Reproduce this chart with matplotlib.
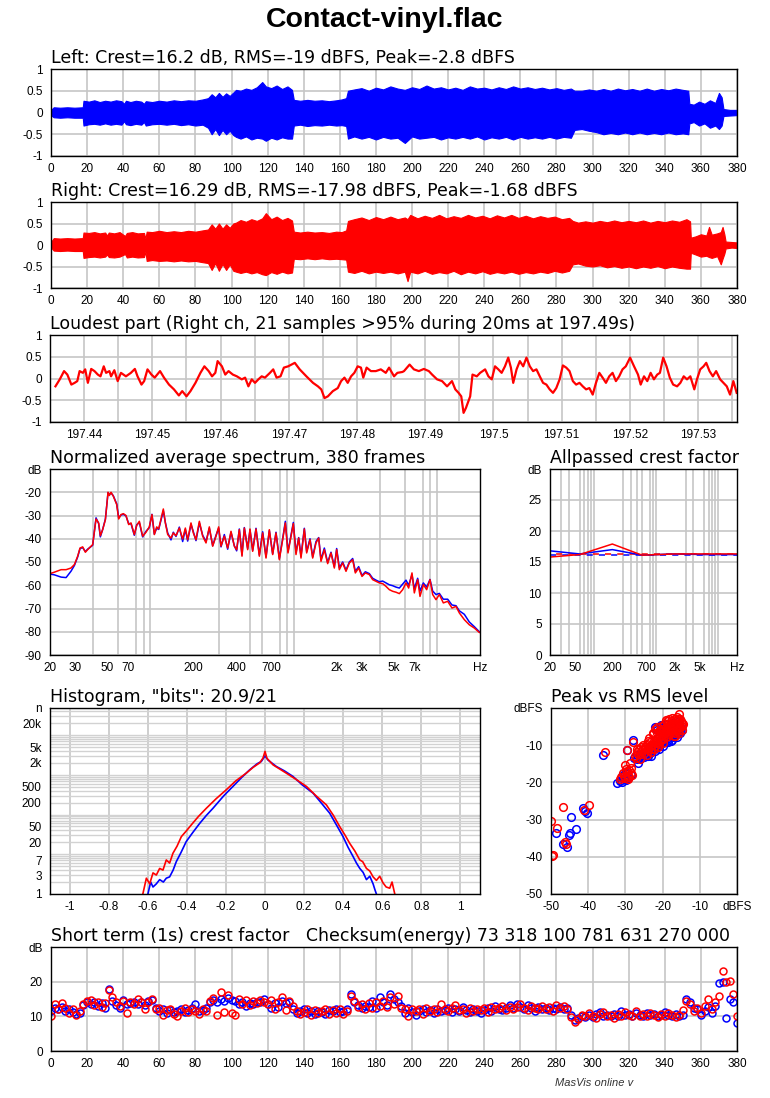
import matplotlib
matplotlib.use("Agg")
import matplotlib.pyplot as plt
import matplotlib.ticker as mticker
import numpy as np

plt.rcParams["font.family"] = ["Liberation Sans", "DejaVu Sans"]

W, H = 770, 1098
BLUE = "#0000ff"
RED = "#ff0000"
GRID = "#c6c6c6"

# ---- waveform envelopes (time s, upper, lower) ----
left_t = [0, 0.5, 1.5, 5, 9, 13, 17.6, 18, 21, 24, 27, 30, 33, 36, 39, 40.5, 41.5, 44, 47, 50,
          51.5, 52.5, 56, 60, 64, 68, 72, 76, 80, 84, 87, 89, 91, 93, 95, 97, 99, 101, 102.5,
          105, 108, 111, 114, 117, 119, 122, 125, 128, 131, 133.5, 134.5, 138, 142, 146, 150,
          154, 158, 161, 163.5, 164.5, 168, 172, 176, 180, 184, 188, 192, 196, 200, 204, 208,
          212, 216, 220, 224, 228, 232, 236, 240, 244, 248, 252, 256, 260, 264, 268, 272, 276,
          280, 284, 288, 290, 294, 298, 302, 306, 310, 314, 318, 322, 326, 330, 334, 338, 342,
          346, 350, 353, 353.6, 356, 359, 362, 365, 368, 370, 371.5, 372.5, 376, 380]
left_up = [0.02, 0.08, 0.12, 0.11, 0.12, 0.11, 0.12, 0.27, 0.25, 0.28, 0.24, 0.27, 0.25, 0.28,
           0.26, 0.2, 0.27, 0.24, 0.27, 0.25, 0.2, 0.26, 0.24, 0.27, 0.25, 0.28, 0.26, 0.28, 0.27,
           0.3, 0.33, 0.42, 0.35, 0.45, 0.36, 0.44, 0.38, 0.46, 0.52, 0.5, 0.55, 0.52, 0.58, 0.7,
           0.6, 0.56, 0.62, 0.54, 0.6, 0.52, 0.29, 0.27, 0.29, 0.27, 0.28, 0.26, 0.28, 0.3, 0.33,
           0.5, 0.53, 0.56, 0.5, 0.57, 0.53, 0.6, 0.55, 0.52, 0.58, 0.54, 0.62, 0.55, 0.58, 0.53,
           0.57, 0.52, 0.6, 0.55, 0.57, 0.53, 0.58, 0.54, 0.6, 0.55, 0.58, 0.54, 0.57, 0.53, 0.56,
           0.52, 0.55, 0.5, 0.5, 0.53, 0.5, 0.54, 0.5, 0.55, 0.51, 0.54, 0.5, 0.55, 0.5, 0.54,
           0.51, 0.55, 0.52, 0.5, 0.2, 0.18, 0.25, 0.2, 0.28, 0.22, 0.45, 0.35, 0.08, 0.06, 0.06]
left_lo = [-0.02, -0.08, -0.11, -0.12, -0.11, -0.12, -0.12, -0.3, -0.27, -0.26, -0.28, -0.25,
           -0.28, -0.26, -0.28, -0.2, -0.27, -0.29, -0.26, -0.28, -0.22, -0.3, -0.27, -0.26,
           -0.28, -0.26, -0.29, -0.27, -0.3, -0.28, -0.35, -0.5, -0.38, -0.52, -0.4, -0.5, -0.42,
           -0.52, -0.56, -0.6, -0.55, -0.62, -0.58, -0.6, -0.65, -0.58, -0.62, -0.57, -0.6, -0.6,
           -0.3, -0.28, -0.31, -0.29, -0.3, -0.28, -0.3, -0.29, -0.31, -0.6, -0.55, -0.6, -0.56,
           -0.62, -0.56, -0.6, -0.58, -0.7, -0.55, -0.6, -0.58, -0.56, -0.62, -0.57, -0.6, -0.56,
           -0.6, -0.55, -0.62, -0.57, -0.6, -0.56, -0.62, -0.56, -0.6, -0.57, -0.6, -0.56, -0.6,
           -0.56, -0.58, -0.4, -0.38, -0.42, -0.45, -0.5, -0.47, -0.5, -0.46, -0.5, -0.46, -0.5,
           -0.47, -0.5, -0.46, -0.5, -0.48, -0.5, -0.25, -0.22, -0.3, -0.25, -0.35, -0.3, -0.38,
           -0.3, -0.08, -0.07, -0.06]

right_t = [0, 0.5, 1.5, 5, 9, 13, 17.6, 18, 21, 24, 27, 30, 31, 32, 35, 38, 41, 42, 45, 48,
           51.5, 52.3, 53, 56, 60, 64, 68, 72, 76, 80, 84, 87, 89, 91, 93, 95, 97, 99, 101,
           102.5, 105, 108, 111, 114, 117, 119, 122, 125, 128, 131, 133.5, 134.5, 138, 142, 146,
           150, 154, 158, 161, 163.5, 164.5, 168, 172, 176, 180, 184, 188, 192, 196, 197.5, 199,
           203, 207, 211, 215, 219, 223, 227, 231, 235, 239, 243, 247, 251, 255, 259, 263, 267,
           271, 275, 279, 283, 287, 289, 292, 296, 300, 304, 308, 312, 316, 320, 324, 328, 332,
           336, 340, 344, 348, 352, 354, 354.4, 357, 360, 363, 364.5, 366, 369, 371, 372, 373,
           373.7, 377, 380]
right_up = [0.02, 0.1, 0.16, 0.15, 0.16, 0.15, 0.16, 0.29, 0.28, 0.3, 0.27, 0.29, 0.22, 0.29,
            0.27, 0.3, 0.21, 0.28, 0.3, 0.27, 0.28, 0.15, 0.31, 0.3, 0.33, 0.3, 0.32, 0.3, 0.33,
            0.31, 0.34, 0.36, 0.48, 0.38, 0.5, 0.38, 0.48, 0.4, 0.5, 0.52, 0.58, 0.54, 0.6, 0.56,
            0.62, 0.74, 0.6, 0.66, 0.58, 0.63, 0.57, 0.31, 0.29, 0.31, 0.29, 0.3, 0.28, 0.31, 0.3,
            0.34, 0.56, 0.6, 0.64, 0.58, 0.65, 0.6, 0.66, 0.6, 0.64, 0.6, 0.7, 0.62, 0.68, 0.63,
            0.7, 0.62, 0.67, 0.63, 0.7, 0.64, 0.68, 0.62, 0.69, 0.64, 0.7, 0.63, 0.68, 0.62, 0.67,
            0.63, 0.66, 0.6, 0.63, 0.56, 0.52, 0.55, 0.52, 0.56, 0.53, 0.57, 0.53, 0.56, 0.53,
            0.57, 0.52, 0.56, 0.53, 0.57, 0.54, 0.6, 0.55, 0.17, 0.2, 0.25, 0.22, 0.42, 0.24, 0.27,
            0.3, 0.42, 0.25, 0.08, 0.07, 0.06]
right_lo = [-0.02, -0.08, -0.13, -0.14, -0.13, -0.14, -0.14, -0.3, -0.28, -0.27, -0.29, -0.27,
            -0.22, -0.28, -0.29, -0.27, -0.21, -0.29, -0.27, -0.29, -0.28, -0.15, -0.37, -0.35,
            -0.37, -0.36, -0.38, -0.36, -0.38, -0.37, -0.4, -0.42, -0.58, -0.42, -0.6, -0.44,
            -0.58, -0.45, -0.6, -0.62, -0.65, -0.62, -0.66, -0.63, -0.68, -0.7, -0.63, -0.67,
            -0.62, -0.66, -0.64, -0.32, -0.33, -0.31, -0.33, -0.31, -0.33, -0.32, -0.33, -0.34,
            -0.62, -0.65, -0.6, -0.66, -0.62, -0.65, -0.62, -0.66, -0.62, -0.84, -0.62, -0.66,
            -0.6, -0.67, -0.63, -0.66, -0.6, -0.68, -0.62, -0.66, -0.61, -0.67, -0.63, -0.66,
            -0.62, -0.67, -0.63, -0.66, -0.62, -0.65, -0.6, -0.64, -0.6, -0.45, -0.43, -0.48,
            -0.5, -0.47, -0.52, -0.49, -0.53, -0.5, -0.54, -0.5, -0.53, -0.49, -0.54, -0.5, -0.53,
            -0.55, -0.55, -0.18, -0.22, -0.27, -0.25, -0.28, -0.3, -0.26, -0.45, -0.32, -0.2,
            -0.08, -0.06, -0.07]

# ---- loudest part, right channel (ms after window start, amplitude) ----
loud_start = 197.4357
loud_ms = [0.1, 0.73, 1.36, 1.84, 2.43, 2.91, 3.30, 3.64, 4.12, 4.46, 4.85, 5.34, 5.82, 6.31,
           6.70, 7.18, 7.52, 8.01, 8.25, 8.73, 9.22, 9.70, 10.43, 11.16, 11.74, 12.13, 12.71,
           13.10, 13.59, 14.17, 14.65, 15.43, 16.01, 16.74, 17.47, 18.19, 18.68, 19.31, 19.89,
           20.62, 21.35, 21.93, 22.56, 23.05, 23.53, 23.87, 24.50, 24.99, 25.47, 26.10, 26.69,
           27.41, 27.90, 28.38, 28.87, 29.35, 29.84, 30.33, 30.81, 31.54, 32.02, 32.51, 33.09,
           33.58, 34.21, 35.18, 35.90, 36.88, 37.85, 38.57, 39.06, 39.54, 40.03, 40.76, 41.48,
           41.97, 42.46, 42.94, 43.43, 43.91, 44.40, 44.88, 45.22, 45.71, 46.34, 47.06, 47.79,
           48.52, 49.00, 49.73, 50.22, 50.95,
           51.19, 52.01, 52.64, 53.37, 54.10, 54.83, 55.31, 56.04, 56.77, 57.50, 58.22, 58.71,
           59.19, 59.58, 59.92, 60.26, 60.89, 61.23, 61.86, 62.35, 63.08, 63.56, 64.05, 64.53,
           65.02, 65.50, 65.99, 66.47, 66.86, 67.20, 67.69, 68.17, 68.66, 69.14, 69.63, 70.11,
           70.60, 71.09, 71.57, 72.06, 72.54, 73.03, 73.51, 74.00, 74.48, 74.97, 75.45, 75.94,
           76.42, 76.91, 77.39, 77.88, 78.36, 78.85, 79.33, 79.82, 80.30, 80.79, 81.27, 81.76,
           82.25, 82.73, 83.22, 83.70, 84.33, 84.91, 85.49, 85.88, 86.37, 86.85, 87.34, 87.82,
           88.31, 88.70, 89.18, 89.67, 90.15, 90.64, 91.22, 91.70, 92.19, 92.67, 93.16, 93.74,
           94.13, 94.61, 95.10, 95.49, 95.97, 96.46, 96.94, 97.53, 98.01, 98.50, 98.98, 99.47,
           99.95]
loud_amp = [-0.18, -0.02, 0.17, 0.09, -0.14, -0.10, -0.06, 0.17, 0.13, 0.21, -0.10, 0.22, 0.17,
            0.09, 0.05, 0.28, 0.13, 0.17, 0.05, 0.19, -0.06, 0.13, 0.05, 0.13, 0.22, 0.05, -0.14,
            -0.06, 0.21, 0.09, 0.02, 0.17, 0.02, -0.14, -0.25, -0.39, -0.29, -0.41, -0.29, -0.10,
            0.13, 0.28, 0.17, 0.05, 0.13, 0.40, 0.28, 0.09, 0.17, 0.09, 0.05, -0.02, 0.02, -0.18,
            -0.02, -0.10, -0.02, 0.05, 0.02, 0.13, 0.21, 0.02, 0.05, 0.25, 0.28, 0.36, 0.21, 0.05,
            -0.10, -0.18, -0.25, -0.45, -0.41, -0.29, -0.22, -0.06, 0.02, -0.10, 0.05, 0.13, 0.28,
            0.25, 0.02, 0.25, 0.17, 0.17, 0.21, 0.13, 0.25, 0.05, 0.13, 0.15,
            0.17, 0.32, 0.21, 0.17, 0.22, 0.17, 0.09, -0.02, -0.06, -0.18, -0.06, -0.25, -0.33,
            -0.41, -0.79, -0.68, -0.41, 0.09, 0.05, 0.13, 0.21, 0.05, -0.02, 0.28, 0.21, 0.13,
            0.28, 0.48, 0.25, -0.10, 0.21, 0.40, 0.28, 0.48, 0.28, 0.17, 0.21, 0.05, -0.10, -0.14,
            -0.25, -0.33, -0.22, -0.02, 0.30, 0.25, 0.17, -0.06, -0.14, -0.10, -0.18, -0.25,
            -0.22, -0.37, -0.10, 0.13, 0.02, -0.10, 0.05, 0.13, -0.06, 0.05, 0.21, 0.28, 0.48,
            0.28, 0.09, -0.14, 0.05, -0.06, 0.13, -0.02, 0.09, 0.13, 0.48, 0.28, 0.02, -0.14,
            -0.18, -0.10, 0.05, -0.02, 0.05, -0.25, -0.02, 0.21, 0.28, 0.36, 0.17, 0.05, 0.17,
            -0.02, -0.10, -0.18, -0.37, -0.06, -0.33]

# ---- normalized average spectrum (Hz, dB) ----
spec_freq = [20, 21.4, 23.9, 25.9, 28.0, 29.6, 31.2, 32.4, 33.8, 35.3, 36.6, 39.7, 41.9, 43.7,
             44.9, 46.6, 48.7, 50.8, 51.9, 53.3, 55.3, 58.4, 60.3, 62.6, 65.0, 67.8, 70.8, 73.5,
             77.5, 80.5, 84.0, 88.6, 93.5, 98.6, 102.9, 106.9, 111.0, 114.6, 119.0, 123.5, 127.6,
             132.5, 139.7, 145.0, 151.4, 159.7, 168.5, 175.9, 182.6, 192.6, 200, 208.7, 220.3,
             232.4, 245.2, 258.6, 272.9, 287.9, 300.4, 312.0, 329.1, 347.2, 366.3, 386.4, 401.1,
             418.7, 437.1, 453.8, 478.8, 497.0, 518.8, 547.4, 577.5, 609.2, 642.8, 678.1, 715.4,
             754.7, 796.2, 840.0, 876.8, 915.1, 960.2, 997.0, 1040.6, 1086.2, 1127.7, 1189.8,
             1235.2, 1303.3, 1360.3, 1435.0, 1497.8, 1555.0, 1640.5, 1730.8, 1826.0, 1926.5,
             2000, 2087.4, 2202.2, 2323.4, 2451.2, 2586.1, 2699.3, 2847.7, 3004.4, 3169.7, 3380.7,
             3566.7, 3763.0, 3970.0, 4188.4, 4418.8, 4661.8, 4918.3, 5188.8, 5474.3, 5775.4,
             6093.1, 6357.8, 6707.5, 6964, 7347, 7628, 8048, 8491, 8958, 9351, 9865, 10408, 11095,
             11898, 12756, 13606, 14350, 15547, 16846, 18252, 19785]
spec_right = [-55.0, -54.4, -53.3, -53.3, -52.6, -51.1, -47.5, -44.0, -43.5, -45.8, -44.7, -42.5,
              -31.5, -33.2, -38.7, -36.1, -31.8, -20.0, -21.4, -20.0, -21.7, -25.3, -31.5, -29.6,
              -29.2, -30.0, -33.9, -33.2, -38.2, -34.3, -32.5, -38.9, -37.2, -34.9, -29.6, -38.2,
              -34.9, -35.8, -31.5, -27.2, -33.2, -38.2, -39.7, -37.5, -38.7, -35.4, -40.1, -35.4,
              -40.4, -33.2, -37.5, -40.4, -32.5, -38.9, -41.8, -34.9, -43.2, -38.9, -34.9, -43.2,
              -38.9, -44.0, -36.8, -43.2, -44.7, -36.1, -47.5, -35.4, -44.7, -35.8, -45.4, -35.8,
              -47.5, -37.5, -48.3, -36.1, -46.8, -37.5, -49.0, -40.4, -33.2, -46.1, -38.9, -33.5,
              -46.8, -39.7, -48.3, -35.8, -46.1, -40.4, -48.3, -41.8, -39.7, -49.7, -44.7, -50.7,
              -46.1, -52.6, -44.7, -53.3, -50.4, -54.0, -50.4, -49.0, -54.7, -52.6, -56.2, -54.7,
              -55.4, -57.6, -58.3, -59.0, -59.3, -60.5, -61.9, -62.6, -63.0, -63.6, -61.9, -59.0,
              -61.2, -54.7, -63.3, -57.6, -64.8, -59.7, -61.9, -57.6, -64.0, -66.2, -64.0, -67.6,
              -66.9, -69.8, -69.1, -71.9, -74.8, -77.0, -78.4, -80.3]
spec_left = [-55.2, -55.5, -56.5, -56.7, -54.0, -51.5, -47.8, -44.2, -43.8, -45.5, -44.5, -42.8,
             -31.0, -33.5, -39.2, -36.0, -31.5, -20.2, -21.0, -20.3, -21.5, -25.0, -31.0, -29.8,
             -29.5, -30.2, -33.5, -33.5, -38.5, -34.0, -33.0, -39.2, -36.8, -35.2, -29.5, -38.0,
             -35.5, -36.0, -32.0, -28.0, -33.0, -37.5, -40.5, -37.2, -39.0, -35.0, -41.2, -36.0,
             -41.0, -33.8, -37.0, -40.8, -33.2, -38.5, -41.2, -35.5, -43.0, -38.5, -35.5, -43.5,
             -38.2, -44.5, -37.2, -43.0, -45.2, -35.8, -47.0, -35.2, -44.2, -36.2, -45.0, -35.5,
             -47.0, -37.0, -47.8, -36.5, -46.5, -37.2, -48.5, -40.0, -32.5, -45.5, -38.5, -33.0,
             -46.0, -39.5, -47.5, -35.5, -45.5, -40.0, -47.8, -41.2, -39.5, -49.0, -44.0, -50.2,
             -45.8, -52.0, -44.2, -52.5, -50.0, -53.5, -50.0, -48.5, -54.0, -52.0, -55.8, -54.2,
             -55.0, -57.0, -57.8, -58.5, -58.2, -59.0, -59.8, -60.2, -60.8, -61.2, -59.5, -57.8,
             -60.0, -55.5, -61.5, -57.0, -62.5, -59.0, -60.8, -57.5, -62.5, -64.0, -63.5, -66.0,
             -66.0, -68.5, -68.8, -71.0, -72.5, -75.8, -77.8, -80.0]

# ---- allpassed crest factor (Hz, dB) ----
ap_freq = [20, 60, 200, 600, 2000, 6000, 20000]
ap_left = [16.8, 16.3, 17.0, 16.1, 16.3, 16.2, 16.2]
ap_right = [15.8, 16.2, 17.9, 16.1, 16.3, 16.3, 16.3]
crest_left, crest_right = 16.2, 16.29

# ---- histogram (sample value, count) ----
hist_r_x = [-0.625, -0.607, -0.59, -0.573, -0.556, -0.539, -0.522, -0.505, -0.488, -0.471,
            -0.45, -0.428, -0.40, -0.377, -0.34, -0.30, -0.25, -0.198, -0.15, -0.096, -0.06,
            -0.027, -0.01, 0, 0.01, 0.041, 0.075, 0.109, 0.16, 0.212, 0.26, 0.314, 0.35, 0.382,
            0.41, 0.433, 0.46, 0.485, 0.50, 0.519, 0.536, 0.553, 0.57, 0.587, 0.604, 0.62, 0.638,
            0.65, 0.664]
hist_r_n = [1, 2.5, 1.8, 3.4, 3.0, 4.4, 4.0, 7.2, 6.0, 10.6, 16, 27.8, 40, 55, 90, 144, 250,
            420, 700, 1100, 1550, 2000, 2650, 3880, 2600, 1780, 1400, 1100, 760, 510, 300, 175,
            95, 50, 30, 19, 12, 7.2, 6.5, 4.4, 3.8, 2.7, 2.2, 2.8, 1.9, 1.5, 1.4, 2, 1]
hist_l_x = [-0.599, -0.585, -0.573, -0.556, -0.539, -0.52, -0.505, -0.488, -0.47, -0.454, -0.43,
            -0.403, -0.37, -0.334, -0.30, -0.266, -0.21, -0.164, -0.12, -0.078, -0.04, -0.019, 0,
            0.015, 0.058, 0.10, 0.143, 0.19, 0.246, 0.29, 0.331, 0.37, 0.399, 0.425, 0.451, 0.468,
            0.485, 0.502, 0.519, 0.536, 0.553, 0.562, 0.570]
hist_l_n = [1, 2, 1.5, 1.8, 2.3, 2.0, 2.5, 2.7, 4.0, 6.5, 11, 20.9, 35, 60, 95, 144, 300, 510,
            850, 1340, 1900, 2160, 3000, 2360, 1620, 1250, 910, 560, 345, 190, 108, 50, 28, 15,
            8.7, 6, 4.4, 3.5, 2.3, 2.8, 1.8, 1.3, 1]

# ---- peak vs RMS per second (RMS dBFS, peak dBFS) ----
pr_left_rms = [-48.7, -46.7, -45.8, -45.0, -45.2, -44.7, -43.4, -41.5, -40.4, -40.8, -35.9,
               -32.3, -31.0, -30.5, -30.0, -29.8, -29.2, -29.6, -28.0, -26.5, -27.0, -26.2,
               -25.5, -25.0, -24.5, -24.0, -23.5, -23.0, -22.5, -22.0, -21.5, -21.0, -20.5,
               -20.0, -19.5, -19.0, -18.5, -18.0, -17.5, -17.2, -16.8, -16.5, -16.0, -15.5,
               -15.0, -20.5, -19.8, -19.0, -18.2, -17.5, -16.8, -16.2, -15.5, -21.5, -22.0, -17.8,
               -27.8, -26.8, -25.8, -24.8, -23.8, -22.8, -21.8, -20.8, -19.8, -18.8, -17.8,
               -16.2, -15.2, -14.9, -18.5, -31.5, -30.8, -29.5, -28.5]
pr_left_peak = [-33.7, -36.5, -37.4, -33.5, -34.2, -29.2, -32.6, -26.9, -28.3, -27.6, -12.6,
                -20.2, -18.2, -19.0, -17.6, -19.3, -18.8, -11.2, -8.5, -14.8, -12.5, -13.0,
                -12.5, -13.2, -11.8, -13.0, -12.2, -12.8, -10.8, -11.6, -10.0, -10.9, -9.5,
                -10.2, -8.2, -7.5, -8.0, -7.0, -8.5, -7.8, -7.2, -6.5, -7.0, -6.2, -5.5, -4.5,
                -5.2, -4.2, -5.5, -4.0, -4.6, -3.8, -4.5, -6.0, -5.2, -6.2,
                -13.5, -13.8, -13.5, -12.5, -12.0, -11.5, -10.5, -9.8, -9.0, -8.8, -8.9,
                -7.8, -6.8, -6.0, -9.2, -19.5, -19.8, -17.5, -18.0]
pr_right_rms = [-50.0, -49.7, -49.4, -48.5, -46.9, -46.2, -46.0, -41.0, -39.8, -35.5, -31.2,
                -30.6, -30.2, -30.0, -29.7, -29.4, -29.1, -28.9, -28.6, -28.7, -28.3, -29.6,
                -28.0, -27.2, -26.9, -26.5, -26.0, -25.8, -25.5, -25.0, -24.6, -24.2, -24.0,
                -23.5, -23.2, -23.0, -22.7, -22.5, -22.2, -22.0, -21.8, -21.5, -21.2, -21.0,
                -20.8, -20.5, -20.2, -20.0, -19.8, -19.5, -19.2, -19.0, -18.8, -18.5, -18.2,
                -18.0, -17.8, -17.5, -17.2, -17.0, -16.8, -16.5, -16.2, -16.0, -15.8, -15.5,
                -15.2, -15.0, -14.8, -14.8, -22.0, -21.5, -21.0, -20.5, -20.0, -19.5, -18.5,
                -17.5, -16.5, -15.5, -22.5, -24.0, -17.0, -15.6,
                -27.5, -27.0, -26.3, -25.8, -25.3, -24.8, -24.3, -23.8, -23.3, -22.8, -22.3,
                -21.8, -21.3, -20.8, -20.3, -19.8, -19.3, -18.8, -18.3, -17.8, -17.3, -16.8,
                -16.3, -15.8, -15.3, -14.9, -14.6, -16.0, -17.6, -19.0, -20.6, -21.6, -23.6,
                -18.6, -17.9, -16.6, -15.6, -29.9, -30.4, -28.6, -29.3, -31.5]
pr_right_peak = [-30.5, -39.7, -39.5, -32.3, -26.7, -35.9, -36.6, -27.4, -26.2, -11.8, -18.6,
                 -17.6, -15.4, -18.9, -17.0, -18.2, -16.7, -18.5, -17.4, -14.8, -18.0, -11.4,
                 -9.2, -13.4, -11.7, -12.3, -13.6, -10.5, -11.4, -12.2, -10.6, -12.6, -11.3,
                 -10.2, -11.9, -10.9, -6.7, -9.6, -11.0, -10.2, -8.2, -9.1, -10.6, -9.7, -8.8,
                 -8.4, -7.2, -9.3, -6.3, -4.3, -7.8, -5.1, -3.6, -6.2, -7.0, -4.6, -5.8, -5.3,
                 -6.5, -3.9, -6.8, -4.8, -3.3, -5.6, -6.1, -4.1, -2.9, -3.6, -4.9, -5.8, -5.6,
                 -5.1, -6.1, -4.9, -5.6, -6.9, -4.2, -4.2, -5.9, -5.2, -7.0, -8.8, -7.5, -1.6,
                 -12.8, -11.0, -11.0, -12.3, -10.0, -11.0, -9.8, -10.8, -9.2, -10.0, -8.8,
                 -9.5, -7.8, -7.5, -6.0, -8.2, -6.6, -5.6, -3.0, -3.4, -4.8, -3.0,
                 -4.2, -3.0, -5.0, -3.9, -4.4, -2.5, -2.7, -3.2, -5.8, -6.7, -8.1,
                 -7.4, -6.8, -7.4, -6.8, -16.5, -18.3, -16.0, -19.1, -19.0]

# ---- short term (1 s) crest factor, every 2 s from 0 to 380 ----
st_time = list(range(0, 381, 2))
st_left = [11.5, 12.5, 12.0, 12.8, 11.5, 12.0, 11.2, 10.8, 11.0, 13.2, 14.0, 13.5, 14.2, 13.0,
           13.8, 12.5, 17.8, 14.5, 13.2, 12.5, 14.8, 13.5, 13.8, 14.2, 13.5, 14.0, 13.2, 14.5,
           14.8, 12.5, 11.5, 12.2, 11.0, 11.8, 11.2, 11.5, 12.0, 11.2, 11.8, 12.5, 13.5, 11.5,
           11.8, 12.5, 14.0, 14.8, 14.2, 15.0, 14.5, 15.2, 14.8, 14.5, 13.5, 14.2, 13.0, 13.8,
           13.5, 14.2, 14.0, 15.0, 13.5, 12.5, 13.8, 12.8, 14.5, 13.8, 14.2, 12.0, 11.0, 11.5,
           12.2, 11.0, 11.5, 10.8, 11.5, 11.2, 10.8, 11.8, 11.5, 12.0, 11.2, 11.5, 12.0, 16.5,
           14.0, 13.2, 12.5, 13.0, 12.8, 14.5, 12.5, 15.5, 14.0, 13.2, 16.5, 15.0, 14.2, 13.0,
           11.0, 12.5, 11.2, 10.5, 11.5, 12.0, 11.2, 11.8, 11.0, 12.2, 11.5, 11.8, 12.5, 11.2,
           12.0, 11.5, 12.8, 11.8, 11.2, 12.0, 11.5, 11.0, 11.8, 12.5, 11.5, 13.0, 12.2, 11.8,
           12.5, 13.2, 12.5, 13.5, 12.8, 12.0, 13.2, 12.5, 11.5, 12.8, 12.2, 12.5, 11.8, 12.5,
           12.0, 12.8, 12.2, 12.5, 10.5, 8.8, 9.5, 10.0, 9.8, 10.5, 9.8, 10.8, 11.2, 10.2, 10.5,
           10.0, 10.8, 10.2, 11.5, 10.5, 10.8, 10.2, 11.0, 10.5, 10.2, 11.0, 10.5, 10.8, 10.0,
           10.5, 11.2, 10.5, 10.2, 10.8, 10.0, 10.5, 15.0, 14.0, 12.5, 12.0, 10.5, 11.5, 12.8,
           11.0, 13.0, 19.5, 20.0, 9.5, 15.0, 14.0, 8.0]
st_right = [10.2, 13.5, 12.2, 13.8, 12.5, 11.0, 12.2, 10.5, 11.5, 13.5, 14.5, 14.8, 13.2, 14.0,
            12.8, 13.8, 17.5, 15.5, 14.0, 13.0, 14.5, 11.0, 14.2, 13.5, 15.0, 14.0, 12.2, 14.2,
            15.0, 12.0, 12.5, 10.5, 11.8, 12.2, 10.8, 10.0, 11.5, 12.5, 11.2, 12.0, 11.5, 10.8,
            12.0, 11.5, 14.5, 15.2, 10.5, 17.0, 11.2, 16.2, 11.0, 10.5, 15.0, 13.5, 14.8, 13.2,
            14.5, 13.8, 14.8, 14.0, 13.5, 14.8, 12.2, 14.0, 15.5, 11.8, 14.5, 13.0, 11.5, 10.8,
            11.2, 12.0, 10.5, 11.8, 11.0, 11.5, 12.2, 10.8, 11.8, 11.0, 12.2, 10.8, 11.5, 16.0,
            14.5, 12.8, 13.5, 12.2, 13.8, 12.5, 14.0, 13.0, 14.5, 12.8, 15.5, 13.5, 16.0, 12.5,
            12.0, 10.0, 12.0, 11.5, 12.2, 10.8, 12.5, 11.5, 12.2, 11.2, 13.5, 12.0, 11.5, 12.5,
            13.2, 11.8, 12.2, 11.0, 12.5, 11.5, 12.2, 11.8, 12.5, 11.2, 12.8, 12.0, 12.5, 13.0,
            11.8, 12.8, 12.2, 12.8, 13.5, 12.5, 11.8, 13.0, 12.5, 12.0, 13.0, 12.2, 12.8, 11.5,
            13.2, 12.5, 13.0, 12.2, 9.8, 8.5, 9.2, 10.5, 10.0, 11.0, 10.2, 9.5, 10.8, 11.2, 10.0,
            10.5, 9.5, 10.8, 10.0, 11.2, 10.5, 10.0, 11.5, 10.2, 10.8, 10.0, 11.0, 10.5, 9.8,
            10.8, 10.2, 11.0, 10.5, 9.8, 10.5, 11.8, 14.5, 13.5, 11.5, 12.5, 11.0, 13.0, 15.0,
            12.0, 14.0, 16.0, 23.0, 20.0, 20.2, 16.5, 10.0]

fig = plt.figure(figsize=(W / 100, H / 100), dpi=100)


def add_axes(x0, y0, x1, y1):
    return fig.add_axes([x0 / W, 1 - y1 / H, (x1 - x0) / W, (y1 - y0) / H])


def style(ax, title):
    ax.set_title(title, loc="left", fontsize=12.5, family="DejaVu Sans", pad=4)
    ax.tick_params(which="both", length=0, labelsize=8.5)
    ax.tick_params(axis="y", pad=6)
    ax.tick_params(axis="x", pad=5)
    ax.set_axisbelow(True)
    for s in ax.spines.values():
        s.set_linewidth(1)


def wave_panel(y0, y1, t, up, lo, color, title):
    ax = add_axes(51, y0, 737, y1)
    ax.fill_between(t, lo, up, color=color, lw=0.8)
    ax.set_xlim(0, 380)
    ax.set_ylim(-1, 1)
    ax.set_xticks(range(0, 381, 20))
    ax.set_yticks([-1, -0.5, 0, 0.5, 1], ["-1", "-0.5", "0", "0.5", "1"])
    ax.grid(True, color=GRID, lw=1.2)
    style(ax, title)
    return ax


wave_panel(69, 156, left_t, left_up, left_lo, BLUE,
           "Left: Crest=16.2 dB, RMS=-19 dBFS, Peak=-2.8 dBFS")
wave_panel(202, 288, right_t, right_up, right_lo, RED,
           "Right: Crest=16.29 dB, RMS=-17.98 dBFS, Peak=-1.68 dBFS")

# loudest part
ax = add_axes(50, 335, 737, 422)
loud_t = loud_start + np.array(loud_ms) / 1000
ax.plot(loud_t, loud_amp, color=RED, lw=1.6)
ax.set_xlim(loud_start, loud_start + 0.1)
ax.set_ylim(-1, 1)
loud_ticks = [197.44, 197.45, 197.46, 197.47, 197.48, 197.49, 197.5, 197.51, 197.52, 197.53]
ax.set_xticks(loud_ticks, [f"{v:g}" for v in loud_ticks])
ax.set_xticks([v + 0.005 for v in loud_ticks] + [197.435], minor=True)
ax.set_yticks([-1, -0.5, 0, 0.5, 1], ["-1", "-0.5", "0", "0.5", "1"])
ax.grid(True, which="both", color=GRID, lw=1.2)
style(ax, "Loudest part (Right ch, 21 samples >95% during 20ms at 197.49s)")

# spectrum
grid_f = [m * 10 ** k for k in (1, 2, 3) for m in range(3, 11)]
ax = add_axes(50, 469, 480, 655)
ax.semilogx(spec_freq, spec_left, color=BLUE, lw=1.1)
ax.semilogx(spec_freq, spec_right, color=RED, lw=1.1)
ax.set_xlim(20, 20000)
ax.set_ylim(-90, -10)
ax.set_xticks([20, 30, 50, 70, 200, 400, 700, 2000, 3000, 5000, 7000, 20000],
              ["20", "30", "50", "70", "200", "400", "700", "2k", "3k", "5k", "7k", "Hz"])
ax.set_xticks(grid_f, minor=True)
ax.xaxis.set_minor_formatter(mticker.NullFormatter())
ax.set_yticks(range(-90, -9, 10), [str(v) for v in range(-90, -19, 10)] + ["dB"])
ax.grid(True, axis="x", which="minor", color=GRID, lw=1.2)
ax.grid(True, axis="y", which="major", color=GRID, lw=1.2)
style(ax, "Normalized average spectrum, 380 frames")

# allpassed crest factor
ax = add_axes(550, 469, 737, 655)
ax.axhline(crest_left, color=BLUE, lw=1.1, ls=(0, (4, 4)))
ax.axhline(crest_right, color=RED, lw=1.1, ls=(4, (4, 4)))
ax.semilogx(ap_freq, ap_left, color=BLUE, lw=1.1)
ax.semilogx(ap_freq, ap_right, color=RED, lw=1.1)
ax.set_xlim(20, 20000)
ax.set_ylim(0, 30)
ax.set_xticks([20, 50, 200, 700, 2000, 5000, 20000],
              ["20", "50", "200", "700", "2k", "5k", "Hz"])
ax.set_xticks(grid_f, minor=True)
ax.xaxis.set_minor_formatter(mticker.NullFormatter())
ax.set_yticks(range(0, 31, 5), ["0", "5", "10", "15", "20", "25", "dB"])
ax.grid(True, axis="x", which="minor", color=GRID, lw=1.2)
ax.grid(True, axis="y", which="major", color=GRID, lw=1.2)
style(ax, "Allpassed crest factor")

# histogram
ax = add_axes(50, 708, 480, 894)
ax.semilogy(hist_l_x, hist_l_n, color=BLUE, lw=1.2)
ax.semilogy(hist_r_x, hist_r_n, color=RED, lw=1.2)
ax.set_xlim(-1.1, 1.1)
ax.set_ylim(1, 48000)
xt = [-1, -0.8, -0.6, -0.4, -0.2, 0, 0.2, 0.4, 0.6, 0.8, 1]
ax.set_xticks(xt, [f"{v:g}" for v in xt])
yt = [1, 3, 7, 20, 50, 200, 500, 2000, 5000, 20000, 48000]
ax.set_yticks(yt, ["1", "3", "7", "20", "50", "200", "500", "2k", "5k", "20k", "n"])
ax.yaxis.set_minor_locator(mticker.LogLocator(base=10, subs=np.arange(1, 10), numticks=60))
ax.yaxis.set_minor_formatter(mticker.NullFormatter())
ax.grid(True, axis="y", which="minor", color="#d2d2d2", lw=1.0)
ax.grid(True, axis="y", which="major", color="#d2d2d2", lw=1.0)
ax.grid(True, axis="x", which="major", color=GRID, lw=1.2)
style(ax, 'Histogram, "bits": 20.9/21')

# peak vs rms
ax = add_axes(551, 708, 737, 894)
ax.plot(pr_left_rms, pr_left_peak, "o", mfc="none", mec=BLUE, ms=5.5, mew=1.1)
ax.plot(pr_right_rms, pr_right_peak, "o", mfc="none", mec=RED, ms=5.5, mew=1.1)
ax.set_xlim(-50, 0)
ax.set_ylim(-50, 0)
ax.set_xticks(range(-50, 1, 10), ["-50", "-40", "-30", "-20", "-10", "dBFS"])
ax.set_yticks(range(-50, 1, 10), ["-50", "-40", "-30", "-20", "-10", "dBFS"])
ax.grid(True, color=GRID, lw=1.2)
style(ax, "Peak vs RMS level")

# short term crest factor
ax = add_axes(51, 947, 737, 1051)
ax.plot(st_time, st_left, "o", mfc="none", mec=BLUE, ms=5, mew=1.1)
ax.plot(st_time, st_right, "o", mfc="none", mec=RED, ms=5, mew=1.1)
ax.set_xlim(0, 380)
ax.set_ylim(0, 30)
ax.set_xticks(range(0, 381, 20))
ax.set_yticks([0, 10, 20, 30], ["0", "10", "20", "dB"])
ax.grid(True, color=GRID, lw=1.2)
style(ax, "Short term (1s) crest factor   Checksum(energy) 73 318 100 781 631 270 000")

fig.text(385 / W, 1 - 20 / H, "Contact-vinyl.flac", ha="center", va="center",
         fontsize=20.5, fontweight="bold")
fig.text(633 / W, 1 - 1083 / H, "MasVis online v", ha="right", va="center",
         fontsize=8, style="italic", color="#333333")

fig.savefig("out.png", dpi=100)
